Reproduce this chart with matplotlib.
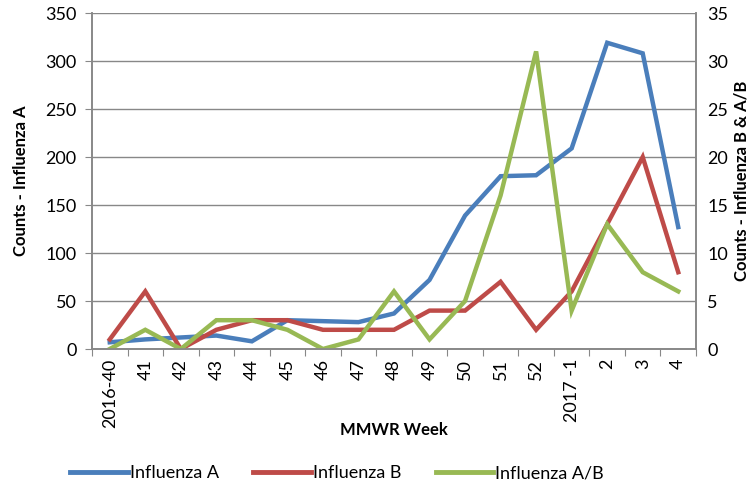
import matplotlib

matplotlib.use("Agg")
import matplotlib.pyplot as plt
import numpy as np
from matplotlib.lines import Line2D

weeks = ["2016-40", "41", "42", "43", "44", "45", "46", "47", "48",
         "49", "50", "51", "52", "2017 -1", "2", "3", "4"]
flu_a = [7, 10, 12, 14, 8, 30, 29, 28, 37, 72, 139, 180, 181, 209, 319, 308, 127]
flu_b = [1, 6, 0, 2, 3, 3, 2, 2, 2, 4, 4, 7, 2, 6, 13, 20, 8]
flu_ab = [0, 2, 0, 3, 3, 2, 0, 1, 6, 1, 5, 16, 31, 4, 13, 8, 6]

plt.rcParams["font.family"] = ["Lato", "DejaVu Sans"]

blue = "#4a7ebb"
red = "#be4b48"
green = "#98b954"
grid_c = "#888888"

fig = plt.figure(figsize=(7.49, 4.95), dpi=100)
ax = fig.add_axes([92 / 749, 1 - 349 / 495, (696 - 92) / 749, (349 - 13) / 495])
ax2 = ax.twinx()

x = np.arange(len(weeks)) + 0.5
lw = 3.2
ax.plot(x, flu_a, color=blue, linewidth=lw, solid_joinstyle="miter")
ax2.plot(x, flu_b, color=red, linewidth=lw, solid_joinstyle="miter")
ax2.plot(x, flu_ab, color=green, linewidth=lw, solid_joinstyle="miter")

ax.set_xlim(0, len(weeks))
ax.set_ylim(0, 350)
ax2.set_ylim(0, 35)
ax.set_yticks(np.arange(0, 351, 50))
ax2.set_yticks(np.arange(0, 36, 5))

ax.set_xticks(np.arange(0, len(weeks) + 1))
ax.set_xticklabels([])
ax.set_xticks(x, minor=True)
ax.set_xticklabels(weeks, minor=True, rotation=90, fontsize=13)
ax.tick_params(axis="x", which="minor", length=0, pad=7)
ax.tick_params(axis="x", which="major", length=5, color=grid_c, direction="out")

ax.tick_params(axis="y", labelsize=13, length=5, color=grid_c, pad=6)
ax2.tick_params(axis="y", labelsize=13, length=0, color=grid_c, pad=8)

ax.grid(axis="y", color=grid_c, linewidth=1)
ax.set_axisbelow(True)

for a in (ax, ax2):
    a.spines["top"].set_visible(False)
    for s in ("left", "right", "bottom"):
        a.spines[s].set_color(grid_c)
        a.spines[s].set_linewidth(1.2)

ax.set_ylabel("Counts - Influenza A", fontsize=12, fontweight="bold", labelpad=12)
ax2.set_ylabel("Counts - Influenza B & A/B", fontsize=12, fontweight="bold", labelpad=4)
ax.set_xlabel("MMWR Week", fontsize=12, fontweight="bold", labelpad=-4)

handles = [
    Line2D([], [], color=blue, linewidth=3.5),
    Line2D([], [], color=red, linewidth=3.5),
    Line2D([], [], color=green, linewidth=3.5),
]
fig.legend(handles, ["Influenza A", "Influenza B", "Influenza A/B"],
           loc="lower center", bbox_to_anchor=(0.45, -0.005), ncol=3, frameon=False,
           fontsize=13, handlelength=3.2, handletextpad=0.1, columnspacing=1.9)

fig.savefig("out.png", dpi=100)
